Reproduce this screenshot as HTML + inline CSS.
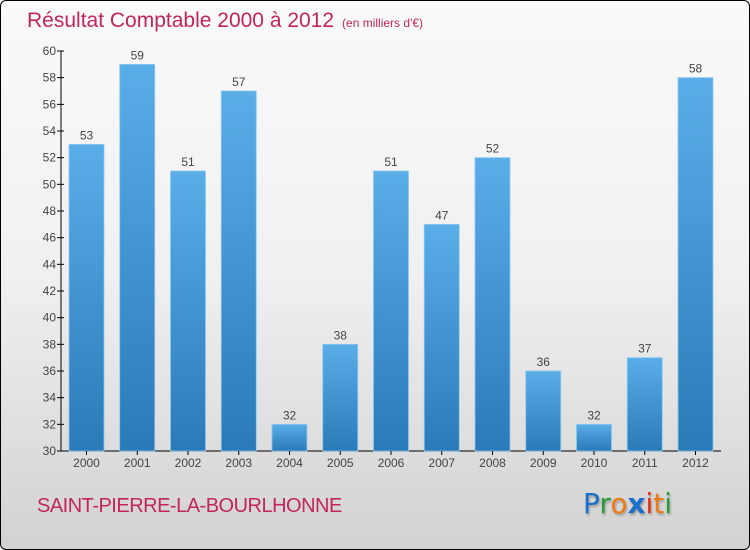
<!DOCTYPE html>
<html><head><meta charset="utf-8"><style>
body{margin:0}
#wrap{position:relative;width:748px;height:548px;border:1px solid #000;border-radius:6px;overflow:hidden;background:linear-gradient(#fafafa 0%,#f0f0f0 50%,#d2d2d2 100%);font-family:"Liberation Sans","DejaVu Sans",sans-serif}
#title{position:absolute;left:26px;top:8px;font-size:21px;color:#c2255c;white-space:nowrap}
#title span{font-size:12px;margin-left:8px}
#city{position:absolute;left:36px;top:494px;font-size:20px;color:#c2255c;letter-spacing:-0.5px}
#logo{position:absolute;left:582px;top:486px;font-size:28px;font-family:"DejaVu Sans",sans-serif;text-shadow:1px 2px 2px #999}
</style></head><body>
<div id="wrap">
<div id="title">Résultat Comptable 2000 à 2012<span>(en milliers d'€)</span></div>
<svg id="chart" width="748" height="548" style="position:absolute;left:0;top:0">
<defs><linearGradient id="bg" x1="0" y1="0" x2="0" y2="1"><stop offset="0" stop-color="#5aaee8"/><stop offset="1" stop-color="#2a7ab8"/></linearGradient></defs>
</svg>
<div id="city">SAINT-PIERRE-LA-BOURLHONNE</div>
<div id="logo"><span style="color:#1a6fc8">P</span><span style="color:#2a9a3a">r</span><span style="color:#f07a10">o</span><span style="color:#1a6fc8;font-weight:bold">x</span><span style="color:#e03010">i</span><span style="color:#f07a10">t</span><span style="color:#2a9a3a">i</span></div>
</div>
<script>
const categories=["2000","2001","2002","2003","2004","2005","2006","2007","2008","2009","2010","2011","2012"];
const values=[53,59,51,57,32,38,51,47,52,36,32,37,58];
const yTicks=[30,32,34,36,38,40,42,44,46,48,50,52,54,56,58,60];
const svg=document.getElementById('chart');const NS='http://www.w3.org/2000/svg';
const yMin=30,yMax=60,plotTop=50,plotBottom=450,x0=60,step=50.75,firstC=85.5,bw=35;
const y=v=>plotBottom-(v-yMin)/(yMax-yMin)*(plotBottom-plotTop);
const x=i=>firstC+i*step;
function mk(t,a){const e=document.createElementNS(NS,t);for(const k in a)e.setAttribute(k,a[k]);svg.appendChild(e);return e;}
const ax=mk('line',{x1:x0,y1:plotTop,x2:x0,y2:plotBottom,stroke:'#000'});


const bx=mk('line',{x1:x0,y1:plotBottom,x2:720,y2:plotBottom,stroke:'#000'});


yTicks.forEach(t=>{
 mk('line',{x1:x0-4,y1:y(t),x2:x0+3,y2:y(t),stroke:'#000'});
 const tx=mk('text',{x:x0-5,y:y(t)+4,'text-anchor':'end','font-size':12,fill:'#444'});tx.textContent=t;
 
 
});
categories.forEach((c,i)=>{
 const v=values[i];
 const r=mk('rect',{x:x(i)-bw/2,y:y(v),width:bw,height:plotBottom-y(v),fill:'url(#bg)',stroke:'#8cc8f0','stroke-width':0.8});
 
 
 const l=mk('text',{x:x(i),y:y(v)-5,'text-anchor':'middle','font-size':12,fill:'#444'});l.textContent=v;
 
 
 mk('line',{x1:x(i),y1:plotBottom,x2:x(i),y2:plotBottom+4,stroke:'#000'});
 const xl=mk('text',{x:x(i),y:plotBottom+16,'text-anchor':'middle','font-size':12,fill:'#444'});xl.textContent=c;
 
 
});
</script>
</body></html>
